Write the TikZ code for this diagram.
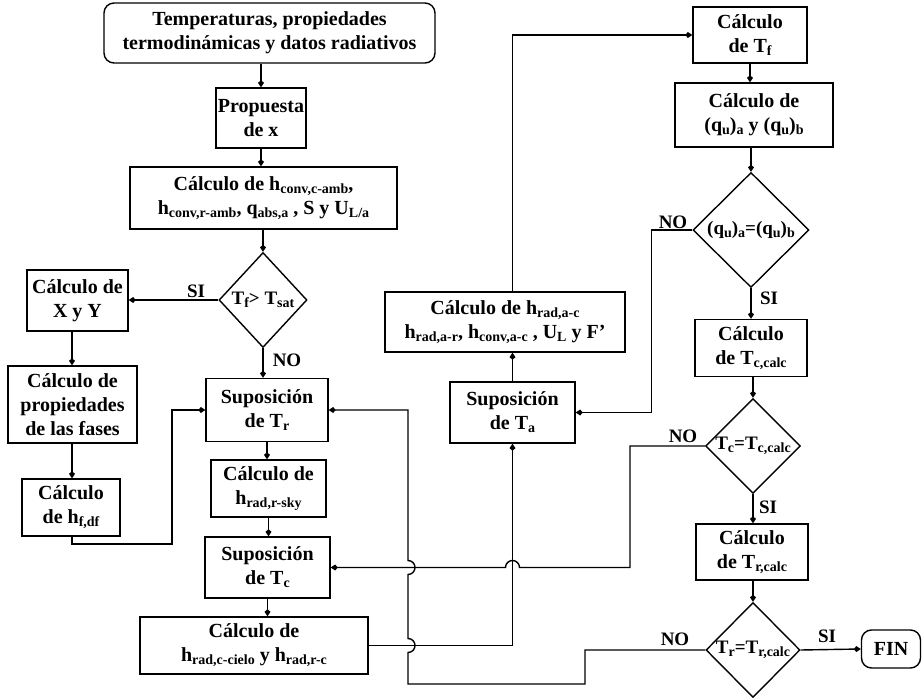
\documentclass[tikz,border=0pt]{standalone}
\usepackage{fontspec}
\setmainfont{Liberation Serif}
\usetikzlibrary{shapes.geometric,arrows.meta}
\newcommand\sbx[1]{\raisebox{-3pt}{\fontsize{14}{14}\selectfont #1}}
\begin{document}
\begin{tikzpicture}[x=1pt,y=-1pt,
  box/.style={draw,line width=1.4pt,rectangle,inner sep=0pt,align=center,font=\bfseries\fontsize{20}{24}\selectfont},
  rbox/.style={box,rounded corners=10pt},
  dia/.style={draw,line width=1.4pt,diamond,inner sep=0pt,font=\bfseries\fontsize{19}{20}\selectfont},
  lbl/.style={font=\bfseries\fontsize{19}{19}\selectfont,inner sep=0pt},
  con/.style={line width=1.4pt},
  arr/.style={con,-{Kite[length=7pt,width=6pt,inset=2.5pt]}},
]
\useasboundingbox (0,0) rectangle (922,698);
\coordinate (cx) at (72,0);
% left / centre column
\node[rbox,minimum width=331pt,minimum height=60pt] (top) at (269.5,33) {Temperaturas, propiedades\\termodinámicas y datos radiativos};
\node[box,minimum width=90pt,minimum height=60pt] (prop) at (261,118) {Propuesta\\de x};
\node[box,minimum width=267pt,minimum height=62pt] (hconv) at (263.5,198) {Cálculo de h\sbx{conv,c-amb},\\h\sbx{conv,r-amb}, q\sbx{abs,a} , S y U\sbx{L/a}};
\node[dia,minimum width=88pt,minimum height=95pt] (d1) at (263,300) {\makebox[0pt]{T\sbx{f}> T\sbx{sat}}};
\node[box,minimum width=101pt,minimum height=61pt] (xy) at (77.5,300.5) {Cálculo de\\X y Y};
\node[box,minimum width=129pt,minimum height=77pt] (prop2) at (72.5,404.5) {Cálculo de\\propiedades\\de las fases};
\node[box,minimum width=98pt,minimum height=57pt] (hfdf) at (71,507.5) {Cálculo\\de h\sbx{f,df}};
\node[box,minimum width=122pt,minimum height=63pt] (Tr) at (267,410) {Suposición\\de T\sbx{r}};
\node[box,minimum width=115pt,minimum height=57pt] (hsky) at (268.5,488.5) {Cálculo de\\h\sbx{rad,r-sky}};
\node[box,minimum width=125pt,minimum height=61pt] (Tc) at (267.5,567.5) {Suposición\\de T\sbx{c}};
\node[box,minimum width=228pt,minimum height=57pt] (hcielo) at (254,645.5) {Cálculo de\\h\sbx{rad,c-cielo} y h\sbx{rad,r-c}};
\node[box,minimum width=240pt,minimum height=60pt] (hrada) at (505,322) {Cálculo de h\sbx{rad,a-c}\\h\sbx{rad,a-r}, h\sbx{conv,a-c} , U\sbx{L} y F'};
\node[box,minimum width=125pt,minimum height=61pt] (Ta) at (512.5,412.5) {Suposición\\de T\sbx{a}};
% right column
\node[box,minimum width=114pt,minimum height=56pt] (Tf) at (750,35) {Cálculo\\de T\sbx{f}};
\node[box,minimum width=158pt,minimum height=64pt] (qu) at (754,115) {Cálculo de\\(q\sbx{u})\sbx{a} y (q\sbx{u})\sbx{b}};
\node[dia,minimum width=116pt,minimum height=115pt] (d2) at (751,230) {\makebox[0pt]{(q\sbx{u})\sbx{a}=(q\sbx{u})\sbx{b}}};
\node[box,minimum width=112pt,minimum height=57pt] (Tccalc) at (751,348) {Cálculo\\de T\sbx{c,calc}};
\node[dia,minimum width=95pt,minimum height=95pt] (d3) at (753,446) {\makebox[0pt]{T\sbx{c}=T\sbx{c,calc}}};
\node[box,minimum width=112pt,minimum height=56pt] (Trcalc) at (752,552) {Cálculo\\de T\sbx{r,calc}};
\node[dia,minimum width=94pt,minimum height=95pt] (d4) at (753,650) {\makebox[0pt]{T\sbx{r}=T\sbx{r,calc}}};
\node[rbox,minimum width=59pt,minimum height=38pt] (fin) at (891,649) {FIN};
% labels
\node[lbl] (l1) at (196,291) {SI};
\node[lbl] (l2) at (287,360) {NO};
\node[lbl] (l3) at (673,222) {NO};
\node[lbl] (l4) at (769,298) {SI};
\node[lbl] (l5) at (683,436) {NO};
\node[lbl] (l6) at (768,507) {SI};
\node[lbl] (l7) at (675,639) {NO};
\node[lbl] (l8) at (827,636) {SI};
% connectors
\draw[arr] (top.south -| prop.north) -- (prop.north);
\draw[arr] (prop.south) -- (prop.south |- hconv.north);
\draw[arr] (hconv.south -| d1.north) -- (d1.north);
\draw[arr] (d1.west) -- (xy.east |- d1.west);
\draw[arr] (xy.south -| cx) -- (prop2.north -| cx);
\draw[arr] (prop2.south -| cx) -- (hfdf.north -| cx);
\draw[arr] (hfdf.south -| cx) -- (72,544) -- (172,544) |- (Tr.west);
\draw[arr] (d1.south) -- (d1.south |- Tr.north);
\draw[arr] (Tr.south) -- (Tr.south |- hsky.north);
\draw[arr] (hsky.south) -- (hsky.south |- Tc.north);
\draw[arr] (Tc.south) -- (Tc.south |- hcielo.north);
\draw[arr] (hcielo.east) -| (Ta.south);
\draw[arr] (Ta.north) -- (Ta.north |- hrada.south);
\draw[arr] (hrada.north -| Ta.north) |- (Tf.west);
\draw[arr] (Tf.south) -- (Tf.south |- qu.north);
\draw[arr] (qu.south -| d2.north) -- (d2.north);
\draw[arr] (d2.west) -- ++(-41,0) |- (Ta.east);
\draw[arr] (d2.south) -- (d2.south |- Tccalc.north);
\draw[arr] (Tccalc.south -| d3.north) -- (d3.north);
\draw[arr] (d3.west) -- (630,446) -- (630,567.5) -- (519.5,567.5) arc[start angle=0,end angle=180,radius=7pt] -- (Tc.east);
\draw[arr] (d3.south) -- (d3.south |- Trcalc.north);
\draw[arr] (Trcalc.south -| d4.north) -- (d4.north);
\draw[arr] (d4.east) -- (fin.west);
\draw[arr] (d4.west) -- (585,650) -- (585,684) -- (408,684) -- (408,652.5) arc[start angle=-90,end angle=90,radius=7pt] -- (408,574.5) arc[start angle=-90,end angle=90,radius=7pt] -- (408,410) -- (Tr.east);
\end{tikzpicture}
\end{document}
